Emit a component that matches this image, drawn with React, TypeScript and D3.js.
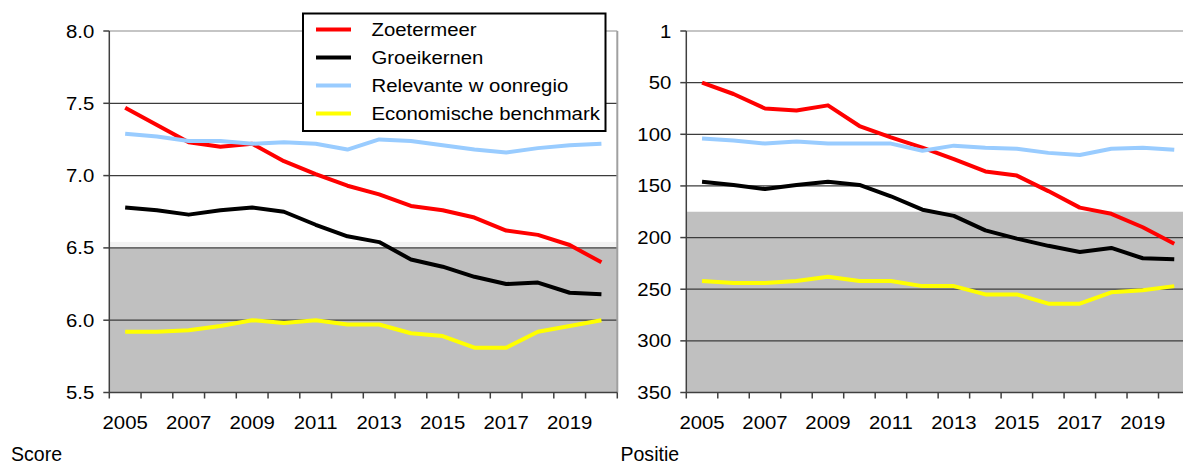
import * as d3 from "d3";

// categories
const years = ["2005", "2006", "2007", "2008", "2009", "2010", "2011", "2012", "2013", "2014", "2015", "2016", "2017", "2018", "2019", "2020"];
const yearLabels = ["2005", "2007", "2009", "2011", "2013", "2015", "2017", "2019"];

// left panel: score
const scoreZoetermeer = [7.47, 7.35, 7.23, 7.2, 7.22, 7.1, 7.01, 6.93, 6.87, 6.79, 6.76, 6.71, 6.62, 6.59, 6.52, 6.4];
const scoreGroeikernen = [6.78, 6.76, 6.73, 6.76, 6.78, 6.75, 6.66, 6.58, 6.54, 6.42, 6.37, 6.3, 6.25, 6.26, 6.19, 6.18];
const scoreWoonregio = [7.29, 7.27, 7.24, 7.24, 7.22, 7.23, 7.22, 7.18, 7.25, 7.24, 7.21, 7.18, 7.16, 7.19, 7.21, 7.22];
const scoreBenchmark = [5.92, 5.92, 5.93, 5.96, 6.0, 5.98, 6.0, 5.97, 5.97, 5.91, 5.89, 5.81, 5.81, 5.92, 5.96, 6.0];
const scoreTicks = [5.5, 6.0, 6.5, 7.0, 7.5, 8.0];
const scoreTickLabels = ["5.5", "6.0", "6.5", "7.0", "7.5", "8.0"];

// right panel: positie
const posZoetermeer = [50, 61, 75, 77, 72, 92, 103, 113, 124, 136, 140, 155, 171, 177, 190, 206];
const posGroeikernen = [146, 149, 153, 149, 146, 149, 160, 173, 179, 193, 201, 208, 214, 210, 220, 221];
const posWoonregio = [104, 106, 109, 107, 109, 109, 109, 116, 111, 113, 114, 118, 120, 114, 113, 115];
const posBenchmark = [242, 244, 244, 242, 238, 242, 242, 247, 247, 255, 255, 264, 264, 253, 251, 247];
const posTicks = [0, 50, 100, 150, 200, 250, 300, 350];
const posTickLabels = ["1", "50", "100", "150", "200", "250", "300", "350"];

const seriesNames = ["Zoetermeer", "Groeikernen", "Relevante w oonregio", "Economische benchmark"];
const seriesColors = ["#ff0000", "#000000", "#99ccff", "#ffff00"];

const FONT = "'Liberation Sans', Arial, sans-serif";

function Label({ x, y, text, anchor = "middle", size = 18.5, sx = 1.1 }) {
  return (
    <text
      transform={`translate(${x},${y}) scale(${sx},1)`}
      textAnchor={anchor}
      fontFamily={FONT}
      fontSize={size}
      fill="#000"
    >
      {text}
    </text>
  );
}

function Panel({ left, right, clipRight, domain, ticks, tickLabels, series, shadeFrom, reverse, caption, captionX, legend }) {
  const top = 31;
  const bottom = 392.5;
  const x = d3.scaleBand().domain(years).range([left, right]).padding(0);
  const y = d3.scaleLinear().domain(domain).range(reverse ? [top, bottom] : [bottom, top]);
  const bw = x.bandwidth();
  const line = d3
    .line<number>()
    .x((_, i) => x(years[i]) + bw / 2)
    .y((d) => y(d));
  const edge = Math.min(right, clipRight);
  const shadeY = y(shadeFrom);

  return (
    <g>
      <rect x={left} y={shadeY} width={edge - left} height={bottom - shadeY} fill="#c0c0c0" />
      {!reverse && <rect x={left} y={shadeY - 6} width={edge - left} height={5} fill="#f2f2f2" />}
      {ticks.map((t, i) => (
        <line key={"g" + i} x1={left} x2={edge} y1={y(t)} y2={y(t)} stroke={i === (reverse ? 0 : ticks.length - 1) ? "#8c8c8c" : "#3c3c3c"} strokeWidth={1.2} />
      ))}
      {right <= clipRight && <line x1={right} x2={right} y1={top} y2={bottom} stroke="#a0a0a0" strokeWidth={2} />}
      <line x1={left} x2={left} y1={top} y2={bottom} stroke="#404040" strokeWidth={1.5} />
      <line x1={left} x2={edge} y1={bottom} y2={bottom} stroke="#404040" strokeWidth={1.5} />
      {ticks.map((t, i) => (
        <line key={"yt" + i} x1={left - 6} x2={left} y1={y(t)} y2={y(t)} stroke="#404040" strokeWidth={1.5} />
      ))}
      {ticks.map((t, i) => (
        <Label key={"yl" + i} x={left - 15} y={y(t) + 6.5} text={tickLabels[i]} anchor="end" />
      ))}
      {d3.range(years.length + 1).map((i) => {
        const xx = left + i * bw;
        if (xx > clipRight) return null;
        return <line key={"xt" + i} x1={xx} x2={xx} y1={bottom} y2={bottom + 6} stroke="#404040" strokeWidth={1.5} />;
      })}
      {yearLabels.map((yr) => (
        <Label key={yr} x={x(yr) + bw / 2} y={429} text={yr} />
      ))}
      {series.map((s, i) => (
        <path key={"s" + i} d={line(s)} fill="none" stroke={seriesColors[i]} strokeWidth={4} strokeLinejoin="round" />
      ))}
      <Label x={captionX} y={461} text={caption} anchor="start" size={21} sx={0.93} />
      {legend && (
        <g>
          <rect x={303} y={13.5} width={302.5} height={117.5} fill="#fff" stroke="#000" strokeWidth={2} />
          {seriesNames.map((n, i) => (
            <g key={n}>
              <line x1={316} x2={351} y1={29.5 + i * 28} y2={29.5 + i * 28} stroke={seriesColors[i]} strokeWidth={4} />
              <Label x={371.5} y={29.5 + i * 28 + 6.5} text={n} anchor="start" />
            </g>
          ))}
        </g>
      )}
    </g>
  );
}

export default function App() {
  return (
    <div style={{ position: "absolute", left: 0, top: 0 }}>
      <svg width={1183} height={464} style={{ display: "block", background: "#fff" }}>
        <Panel
          left={109.3}
          right={617.3}
          clipRight={1183}
          domain={[5.5, 8.0]}
          ticks={scoreTicks}
          tickLabels={scoreTickLabels}
          series={[scoreZoetermeer, scoreGroeikernen, scoreWoonregio, scoreBenchmark]}
          shadeFrom={6.5}
          reverse={false}
          caption="Score"
          captionX={11}
          legend={true}
        />
        <Panel
          left={686.3}
          right={1190}
          clipRight={1183}
          domain={[0, 350]}
          ticks={posTicks}
          tickLabels={posTickLabels}
          series={[posZoetermeer, posGroeikernen, posWoonregio, posBenchmark]}
          shadeFrom={175}
          reverse={true}
          caption="Positie"
          captionX={620.5}
          legend={false}
        />
      </svg>
    </div>
  );
}
